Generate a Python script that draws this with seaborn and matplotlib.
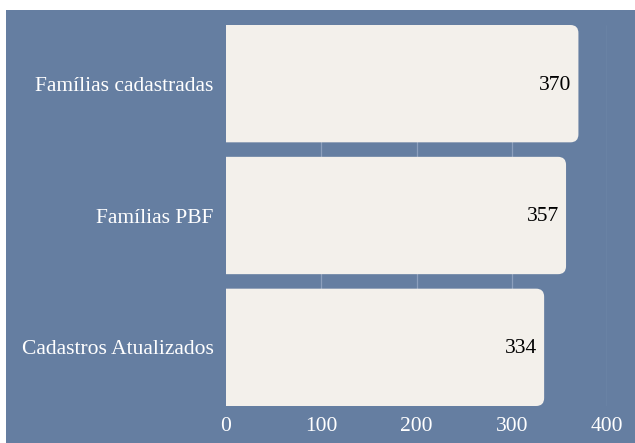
import matplotlib
matplotlib.use("Agg")
import matplotlib.pyplot as plt
from matplotlib.patches import FancyBboxPatch, Rectangle
import seaborn as sns
import pandas as pd

categorias = ["Famílias cadastradas", "Famílias PBF", "Cadastros Atualizados"]
valores = [370, 357, 334]
ticks_x = [0, 100, 200, 300, 400]

fundo = "#657ea1"
cor_barra = "#f3f0eb"
cor_grade = "#8c9fbd"

sns.set_theme(style="white")
plt.rcParams["font.family"] = ["Liberation Serif", "DejaVu Serif"]

df = pd.DataFrame({"categoria": categorias, "valor": valores})

fig = plt.figure(figsize=(6.35, 4.43), dpi=100, facecolor="white")
fig.patches.append(Rectangle((6 / 635, 0), 1, (443 - 10) / 443,
                             transform=fig.transFigure, facecolor=fundo,
                             edgecolor="none", zorder=-10))
ax = fig.add_axes([226 / 635, 1 - 406 / 443, 381 / 635, 381 / 443])
ax.set_facecolor("none")

sns.barplot(data=df, x="valor", y="categoria", orient="h", color=cor_barra,
            width=0.89, ax=ax, saturation=1)

ax.set_xlim(0, 400)
ax.set_ylim(2.445, -0.445)

# rounded right-hand corners: swap each bar for a rounded box clipped at x=0
px_x = 381 / 400
px_y = 381 / 2.89
raio_px = 8
for patch, v in zip(list(ax.patches), valores):
    x0, y0 = patch.get_x(), patch.get_y()
    h = patch.get_height()
    patch.set_visible(False)
    r = raio_px / px_x
    caixa = FancyBboxPatch((x0 - 30, y0), v + 30, h,
                           boxstyle=f"round,pad=0,rounding_size={r}",
                           mutation_aspect=(raio_px / px_y) / r,
                           facecolor=cor_barra, edgecolor="none", zorder=2)
    ax.add_patch(caixa)
    caixa.set_clip_path(ax.patch)
    ax.annotate(f"{v}", xy=(v, y0 + h / 2), xytext=(-5, -1),
                textcoords="offset points", ha="right", va="center",
                fontsize=15.5, color="black", zorder=3)

ax.set_xticks(ticks_x)
ax.set_xticklabels([str(t) for t in ticks_x])
ax.grid(axis="x", color=cor_grade, linewidth=0.9, zorder=0)
ax.set_axisbelow(True)
ax.xaxis.get_gridlines()[0].set_visible(False)
for s in ax.spines.values():
    s.set_visible(False)
ax.tick_params(axis="both", length=0, colors="white", labelsize=15.5)
ax.tick_params(axis="y", pad=9)
ax.tick_params(axis="x", pad=8)
ax.set_xlabel("")
ax.set_ylabel("")

fig.savefig("out.png", dpi=100, facecolor="white")
